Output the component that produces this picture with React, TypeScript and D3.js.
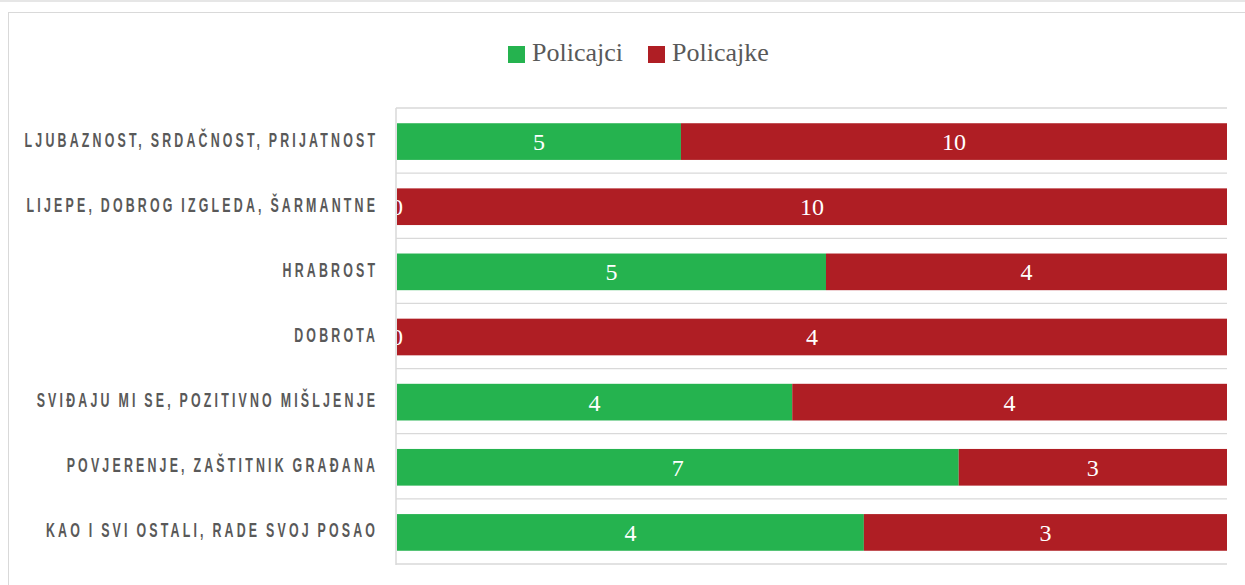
import React from "react";
import * as d3 from "d3";

const categories = [
  "LJUBAZNOST, SRDAČNOST, PRIJATNOST",
  "LIJEPE, DOBROG IZGLEDA, ŠARMANTNE",
  "HRABROST",
  "DOBROTA",
  "SVIĐAJU MI SE, POZITIVNO MIŠLJENJE",
  "POVJERENJE, ZAŠTITNIK GRAĐANA",
  "KAO I SVI OSTALI, RADE SVOJ POSAO",
];
const policajci = [5.2, 0, 4.6, 0, 4.0, 6.7, 3.6];
const policajke = [10.0, 10.0, 4.3, 4.0, 4.4, 3.2, 2.8];
const seriesNames = ["Policajci", "Policajke"];
const colors = ["#25B34F", "#AF1E24"];

const W = 1245;
const H = 585;
const plot = { left: 397, right: 1227, top: 108, bottom: 564 };

export default function App() {
  const x = d3.scaleLinear().domain([0, 1]).range([plot.left, plot.right]);
  const y = d3
    .scaleBand<string>()
    .domain(categories)
    .range([plot.top + 1, plot.bottom + 1])
    .paddingInner(0.437)
    .paddingOuter(0.2185);
  const step = y.step();
  const rows = categories.map((c, i) => {
    const vals = [policajci[i], policajke[i]];
    const total = vals[0] + vals[1];
    let acc = 0;
    const segs = vals.map((v, k) => {
      const x0 = x(acc / total);
      acc += v;
      const x1 = x(acc / total);
      return { k, v, x0, x1 };
    });
    return { c, segs };
  });
  const gridYs = d3.range(categories.length + 1).map((i) => plot.top + i * step);
  const sx = 0.59;
  const ls = 5.4;

  return (
    <svg
      width={W}
      height={H}
      style={{ position: "absolute", left: 0, top: 0, background: "#fff" }}
    >
      <rect x={0} y={0} width={W} height={2} fill="#e6e6e6" />
      <rect x={8.5} y={12.5} width={W} height={H} fill="none" stroke="#d9d9d9" strokeWidth={1} />

      {/* legend */}
      {seriesNames.map((s, i) => {
        const lx = i === 0 ? 508 : 648;
        return (
          <g key={s}>
            <rect x={lx} y={46} width={17} height={17} fill={colors[i]} />
            <text
              x={lx + 24}
              y={61}
              fontFamily="'Liberation Serif', serif"
              fontSize={26}
              fill="#595959"
            >
              {s}
            </text>
          </g>
        );
      })}

      {/* gridlines */}
      {gridYs.map((gy, i) => (
        <line key={i} x1={plot.left - 1} x2={plot.right} y1={gy} y2={gy} stroke="#d9d9d9" strokeWidth={1.3} />
      ))}

      {/* bars */}
      {rows.map((r) =>
        r.segs.map((s) => (
          <rect
            key={r.c + s.k}
            x={s.x0}
            y={y(r.c)!}
            width={Math.max(0, s.x1 - s.x0)}
            height={y.bandwidth()}
            fill={colors[s.k]}
          />
        ))
      )}
      {rows.map((r) =>
        r.segs.map((s) => (
          <text
            key={"l" + r.c + s.k}
            x={(s.x0 + s.x1) / 2}
            y={y(r.c)! + y.bandwidth() / 2}
            dy="0.35em"
            textAnchor="middle"
            fontFamily="'Liberation Serif', serif"
            fontSize={24}
            fill="#ffffff"
          >
            {d3.format(".0f")(s.v)}
          </text>
        ))
      )}

      {/* axis line */}
      <line x1={plot.left - 1} x2={plot.left - 1} y1={plot.top} y2={plot.bottom + 1} stroke="#d9d9d9" strokeWidth={1.5} />

      {/* category labels */}
      {categories.map((c) => (
        <text
          key={"c" + c}
          transform={`translate(${375 + ls * sx}, ${y(c)! + y.bandwidth() / 2 + 5}) scale(${sx},1)`}
          textAnchor="end"
          fontFamily="'Liberation Sans Narrow', 'Liberation Sans', sans-serif"
          fontWeight="bold"
          fontSize={21}
          letterSpacing={ls}
          wordSpacing={-1.5}
          fill="#595959"
        >
          {c}
        </text>
      ))}
    </svg>
  );
}
